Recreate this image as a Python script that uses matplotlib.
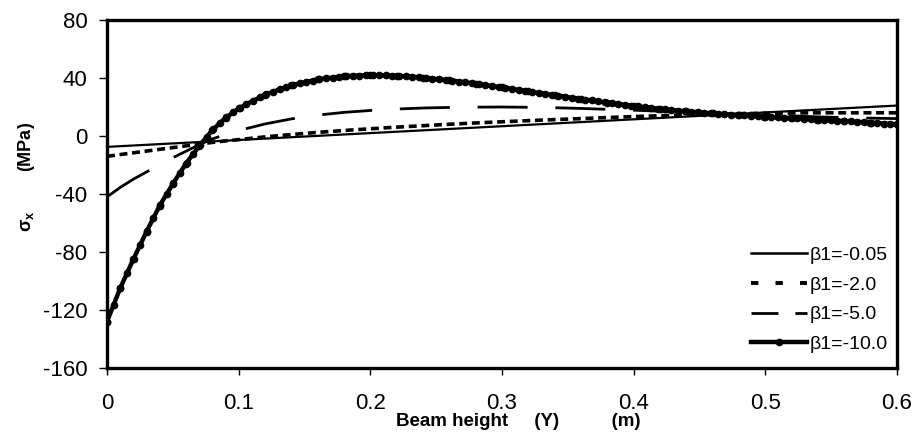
import numpy as np
import matplotlib
matplotlib.use("Agg")
import matplotlib.pyplot as plt
from matplotlib.lines import Line2D

plt.rcParams['font.family'] = ['Liberation Sans', 'DejaVu Sans']
plt.rcParams['axes.unicode_minus'] = False
plt.rcParams['mathtext.fontset'] = 'custom'
plt.rcParams['mathtext.rm'] = 'Liberation Sans'
plt.rcParams['mathtext.it'] = 'Liberation Sans'

# Data
y_height = [0.0, 0.01, 0.02, 0.03, 0.04, 0.05, 0.06, 0.07, 0.08, 0.09, 0.10, 0.12, 0.14, 0.16,
            0.18, 0.20, 0.22, 0.24, 0.26, 0.28, 0.30, 0.32, 0.34, 0.36, 0.38, 0.40, 0.42, 0.44,
            0.46, 0.48, 0.50, 0.52, 0.54, 0.56, 0.58, 0.60]

y_lin = [0.0, 0.6]
sx_b005 = [-7.5, 21.0]

sx_b2 = [-14.0, -12.8, -11.6, -10.4, -9.2, -8.0, -6.8, -5.6, -4.4, -3.4, -2.5, -0.6, 1.0, 2.5,
         3.8, 5.0, 6.1, 7.1, 8.1, 9.0, 9.8, 10.6, 11.3, 12.0, 12.7, 13.4, 14.0, 14.5,
         15.0, 15.4, 15.7, 15.9, 16.0, 16.0, 16.0, 16.0]

sx_b5 = [-42.0, -35.5, -29.8, -24.8, -19.8, -15.0, -10.5, -6.0, -2.0, 1.0, 3.8, 8.3, 11.8, 14.4,
         16.3, 17.6, 18.6, 19.3, 19.7, 19.9, 20.0, 19.8, 19.5, 19.0, 18.4, 17.8, 17.1, 16.4,
         15.7, 15.0, 14.4, 13.8, 13.2, 12.7, 12.3, 12.0]

sx_b10 = [-128.0, -105.0, -85.0, -66.0, -48.0, -33.0, -19.0, -7.0, 4.0, 12.5, 19.0, 28.5, 35.0, 39.0,
          41.3, 42.0, 41.6, 40.3, 38.4, 36.1, 33.5, 30.8, 28.1, 25.5, 23.0, 20.7, 18.7, 17.0,
          15.6, 14.4, 13.3, 12.3, 11.3, 10.3, 9.2, 8.0]

labels = ["\u03b21=-0.05", "\u03b21=-2.0", "\u03b21=-5.0", "\u03b21=-10.0"]
xticks = [0, 0.1, 0.2, 0.3, 0.4, 0.5, 0.6]
xtick_labels = ["0", "0.1", "0.2", "0.3", "0.4", "0.5", "0.6"]
yticks = [-160, -120, -80, -40, 0, 40, 80]

fig = plt.figure(figsize=(9.17, 4.48), dpi=100)
ax = fig.add_axes([107/917, 1 - 368/448, 790/917, 348/448])

l1, = ax.plot(y_lin, sx_b005, color='black', lw=1.6, label=labels[0])
l2, = ax.plot(y_height, sx_b2, color='black', lw=2.6, dashes=(2.2, 1.3), label=labels[1])
l3, = ax.plot(y_height, sx_b5, color='black', lw=2.0, dashes=(18, 10), label=labels[2])
l4, = ax.plot(y_height, sx_b10, color='black', lw=3.2, marker='o', markersize=4.5,
              markevery=1, label=labels[3])
# dense markers along thick curve
xf = np.linspace(0, 0.6, 120)
ax.plot(xf, np.interp(xf, y_height, sx_b10), ls='none', marker='o', markersize=4.5, color='black')

ax.set_xlim(0, 0.6)
ax.set_ylim(-160, 80)
ax.set_xticks(xticks)
ax.set_xticklabels(xtick_labels)
ax.set_yticks(yticks)
ax.tick_params(axis='x', direction='out', length=5, width=1, pad=13, labelsize=16)
ax.tick_params(axis='y', direction='out', length=6, width=1, pad=8, labelsize=16)
for s in ax.spines.values():
    s.set_linewidth(2.4)

ax.set_xlabel("Beam height     (Y)          (m)", fontsize=13.5, fontweight='bold')
ax.xaxis.set_label_coords((518 - 107) / 790, -0.13)
ax.set_ylabel("\u03c3$_\\mathregular{x}$        (MPa)", fontsize=13, fontweight='bold')
ax.yaxis.set_label_coords(-0.088, 0.55)

handles = [Line2D([0], [0], color='black', lw=1.8),
           Line2D([0], [0], color='black', lw=2.8, dashes=(1.9, 4.4)),
           Line2D([0], [0], color='black', lw=2.0, dashes=(9.7, 6.1)),
           Line2D([0], [0], color='black', lw=3.2, marker='o', markersize=4.5, markevery=[1])]
leg = ax.legend(handles, labels, loc='lower right', frameon=False, fontsize=14,
                handlelength=2.9, handletextpad=0.1, labelspacing=0.62,
                bbox_to_anchor=(1.0, 0.015), borderaxespad=0.1)

fig.savefig("out.png", dpi=100)
